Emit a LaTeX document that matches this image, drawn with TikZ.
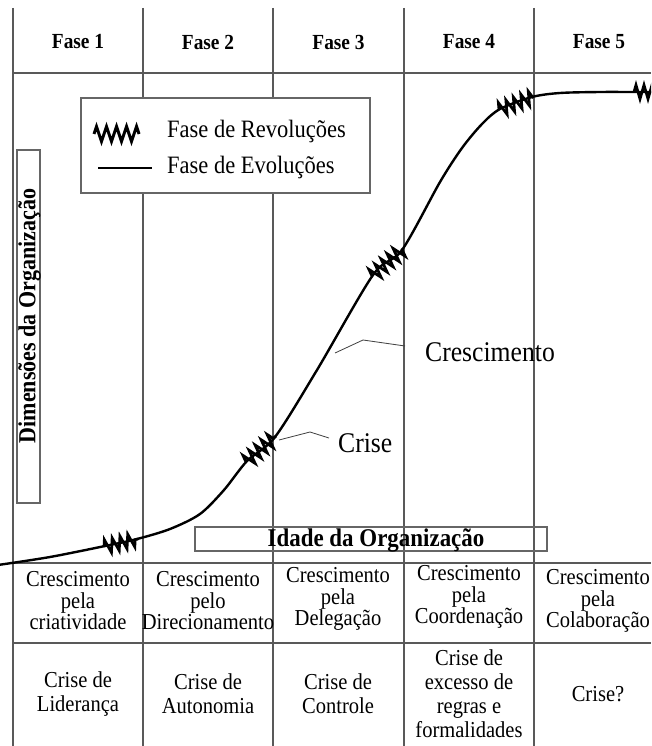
\documentclass[tikz,border=0pt]{standalone}
\usepackage{fontspec}
\setmainfont[FakeStretch=0.9]{Liberation Serif}
\usetikzlibrary{decorations.pathmorphing}
\begin{document}
\begin{tikzpicture}[x=1pt,y=-1pt,
  gridline/.style={draw=black!65, line width=1.1pt},
  framebox/.style={draw=black!60, line width=1.2pt},
  curveline/.style={line width=2.4pt, line cap=round},
  zz/.style={line width=2.7pt, decorate, decoration={zigzag, segment length=8pt, amplitude=7pt}},
  head/.style={font=\bfseries\fontsize{21.5}{22}\selectfont, inner sep=0pt},
  cellA/.style={align=center, inner sep=0pt, font=\fontsize{22.8}{21.5}\selectfont},
  cellB/.style={align=center, inner sep=0pt, font=\fontsize{22.8}{24}\selectfont},
  lbl/.style={inner sep=0pt, font=\fontsize{28.5}{28}\selectfont},
  leg/.style={inner sep=0pt, anchor=west, font=\fontsize{25}{26}\selectfont},
  leader/.style={draw=black!75, line width=0.8pt}]
\useasboundingbox (0,0) rectangle (651,746);
\clip (0,0) rectangle (651,746);
\fill[white] (0,0) rectangle (651,746);

% grid
\foreach \xx in {13,143,273,404,534} \draw[gridline] (\xx,8) -- (\xx,746);
\draw[gridline] (13,73) -- (651,73);
\draw[gridline] (13,563) -- (651,563);
\draw[gridline] (13,643) -- (651,643);

% headers
\node[head] (h1) at (78,42) {Fase 1};
\node[head] (h2) at (208,42) {Fase 2};
\node[head] (h3) at (338.5,42) {Fase 3};
\node[head] (h4) at (469,42) {Fase 4};
\node[head] (h5) at (599,42) {Fase 5};

% legend
\draw[framebox, fill=white] (81,98) rectangle (370,193);
\coordinate (lz1) at (94,134);
\coordinate (lz2) at (139,134);
\draw[zz, line width=3pt, decoration={zigzag, segment length=10pt, amplitude=7.5pt}] (lz1) -- (lz2);
\coordinate (ll1) at (98,168);
\coordinate (ll2) at (152,168);
\draw[curveline, line cap=butt] (ll1) -- (ll2);
\node[leg] (legr) at (167,131) {Fase de Revoluções};
\node[leg] (lege) at (167,167) {Fase de Evoluções};

% axis labels
\draw[framebox, fill=white] (17,150) rectangle (40,503);
\node[rotate=90, inner sep=0pt, font=\bfseries\fontsize{24.5}{26}\selectfont] (ylab) at (29.5,316) {Dimensões da Organização};
\draw[framebox] (195,527) rectangle (547,551);
\node[inner sep=0pt, font=\bfseries\fontsize{25.5}{26}\selectfont] (xlab) at (376,540) {Idade da Organização};

% curve
\draw[curveline] plot[smooth, tension=0.5] coordinates {(-2,565) (50,557) (105,546) (137,539) (170,529) (200,514) (224,490) (247,461) (275,437) (317,370) (373,275) (402,250) (440,182) (462,148) (482,124) (500,109) (532,97) (560,93) (600,92) (633,92) (660,92)};
\coordinate (z1a) at (104,547); \coordinate (z1b) at (138,539);
\coordinate (z2a) at (246,462); \coordinate (z2b) at (276,436);
\coordinate (z3a) at (372,276); \coordinate (z3b) at (403,249);
\coordinate (z4a) at (499,110); \coordinate (z4b) at (533,97);
\coordinate (z5a) at (634,92); \coordinate (z5b) at (666,92);
\draw[zz] (z1a) -- (z1b);
\draw[zz] (z2a) -- (z2b);
\draw[zz] (z3a) -- (z3b);
\draw[zz] (z4a) -- (z4b);
\draw[zz] (z5a) -- (z5b);

% labels with leaders
\node[lbl, anchor=west] (cresc) at (425,352) {Crescimento};
\coordinate (c1) at (335,353); \coordinate (c2) at (363,340); \coordinate (c3) at (405,346);
\draw[leader] (c1) -- (c2) -- (c3);
\node[lbl, anchor=west] (crise) at (338,443) {Crise};
\coordinate (k1) at (279,440); \coordinate (k2) at (310,432); \coordinate (k3) at (329,438);
\draw[leader] (k1) -- (k2) -- (k3);

% table row 1
\node[cellA] (r1c1) at (78,601) {Crescimento\\pela\\criatividade};
\node[cellA] (r1c2) at (208,601) {Crescimento\\pelo\\Direcionamento};
\node[cellA] (r1c3) at (338,599) {Crescimento\\pela\\Delegação};
\node[cellA] (r1c4) at (469,597) {Crescimento\\pela\\Coordenação};
\node[cellA] (r1c5) at (598,601) {Crescimento\\pela\\Colaboração};

% table row 2
\node[cellB] (r2c1) at (78,694) {Crise de\\Liderança};
\node[cellB] (r2c2) at (208,694) {Crise de\\Autonomia};
\node[cellB] (r2c3) at (338,694) {Crise de\\Controle};
\node[cellB] (r2c4) at (469,694) {Crise de\\excesso de\\regras e\\formalidades};
\node[cellB] (r2c5) at (598,694) {Crise?};
\end{tikzpicture}
\end{document}
